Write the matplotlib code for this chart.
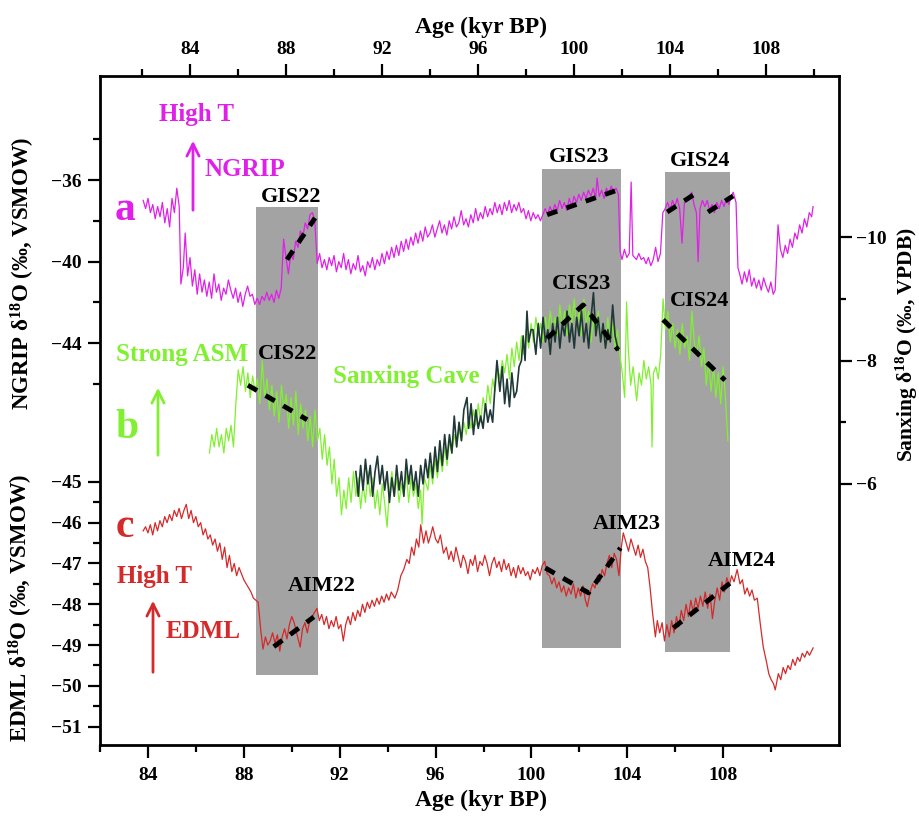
import matplotlib
matplotlib.use("Agg")
import matplotlib.pyplot as plt
from matplotlib.patches import Rectangle

plt.rcParams['font.family'] = ['Liberation Serif', 'DejaVu Serif']
plt.rcParams['font.weight'] = 'bold'
plt.rcParams['mathtext.fontset'] = 'custom'
plt.rcParams['mathtext.rm'] = 'Liberation Serif:bold'
plt.rcParams['mathtext.bf'] = 'Liberation Serif:bold'
plt.rcParams['mathtext.default'] = 'bf'

# NGRIP d18O (top age axis)
ngrip_age = [82.05, 82.15, 82.25, 82.35, 82.45, 82.55, 82.65, 82.75, 82.85, 82.95,
             83.05, 83.15, 83.25, 83.35, 83.45, 83.55, 83.62, 83.72, 83.8, 83.9,
             84.0, 84.1, 84.2, 84.3, 84.4, 84.5, 84.6, 84.7, 84.8, 84.9,
             85.0, 85.1, 85.2, 85.3, 85.4, 85.5, 85.6, 85.7, 85.8, 85.9,
             86.0, 86.1, 86.2, 86.3, 86.4, 86.5, 86.6, 86.7, 86.8, 86.9,
             87.0, 87.1, 87.2, 87.3, 87.4, 87.5, 87.6, 87.7, 87.8, 87.9,
             88.0, 88.1, 88.2, 88.3, 88.4, 88.5, 88.6, 88.7, 88.8, 88.9,
             89.0, 89.1, 89.2, 89.3, 89.4, 89.5, 89.6, 89.7, 89.8, 89.9,
             90.0, 90.1, 90.2, 90.3, 90.4, 90.5, 90.6, 90.7, 90.8, 90.9,
             91.0, 91.1, 91.2, 91.3, 91.4, 91.5, 91.6, 91.7, 91.8, 91.9,
             92.0, 92.1, 92.2, 92.3, 92.4, 92.5, 92.6, 92.7, 92.8, 92.9,
             93.0, 93.1, 93.2, 93.3, 93.4, 93.5, 93.6, 93.7, 93.8, 93.9,
             94.0, 94.1, 94.2, 94.3, 94.4, 94.5, 94.6, 94.7, 94.8, 94.9,
             95.0, 95.1, 95.2, 95.3, 95.4, 95.5, 95.6, 95.7, 95.8, 95.9,
             96.0, 96.1, 96.2, 96.3, 96.4, 96.5, 96.6, 96.7, 96.8, 96.9,
             97.0, 97.1, 97.2, 97.3, 97.4, 97.5, 97.6, 97.7, 97.8, 97.9,
             98.0, 98.1, 98.2, 98.3, 98.4, 98.5, 98.6, 98.7, 98.8, 98.9,
             99.0, 99.1, 99.2, 99.3, 99.4, 99.5, 99.6, 99.7, 99.8, 99.9,
             100.0, 100.1, 100.2, 100.3, 100.4, 100.5, 100.6, 100.7, 100.8, 100.9,
             100.96, 101.05, 101.15, 101.25, 101.35, 101.45, 101.55, 101.65, 101.75, 101.85,
             101.92, 102.0, 102.1, 102.2, 102.3, 102.38, 102.45, 102.6, 102.7, 102.8,
             102.9, 103.0, 103.1, 103.2, 103.3, 103.4, 103.5, 103.6, 103.7, 103.8,
             103.9, 104.0, 104.1, 104.2, 104.3, 104.4, 104.5, 104.6, 104.7, 104.8,
             104.9, 105.0, 105.1, 105.17, 105.25, 105.35, 105.45, 105.55, 105.65, 105.75,
             105.85, 105.95, 106.05, 106.15, 106.25, 106.35, 106.45, 106.55, 106.63, 106.75,
             106.83, 106.9, 107.0, 107.1, 107.2, 107.3, 107.4, 107.5, 107.6, 107.7,
             107.8, 107.9, 108.0, 108.1, 108.2, 108.3, 108.38, 108.5, 108.6, 108.7,
             108.8, 108.9, 109.0, 109.1, 109.2, 109.3, 109.4, 109.5, 109.6, 109.7,
             109.8, 109.9, 109.96]
ngrip_d18o = [-37.0, -37.4, -36.9, -37.6, -37.2, -37.9, -37.3, -37.8, -37.1, -38.1,
              -37.4, -38.3, -36.9, -37.6, -36.4, -37.3, -41.1, -40.3, -38.6, -40.7,
              -39.8, -41.2, -40.4, -41.6, -40.6, -41.5, -40.9, -41.7, -41.0, -41.8,
              -40.6, -41.5, -41.1, -41.9, -41.3, -41.6, -40.9, -41.4, -41.8, -41.3,
              -42.0, -41.5, -42.2, -41.6, -41.2, -41.7, -41.6, -42.1, -41.8, -42.1,
              -41.7, -41.9, -41.5, -41.9, -41.6, -42.0, -41.4, -41.8, -41.3, -38.9,
              -39.8, -40.6, -39.6, -39.9, -39.0, -39.3, -38.5, -38.8, -38.1, -38.4,
              -37.7, -37.6, -38.0, -40.1, -39.6, -40.3, -39.9, -40.4, -39.8, -40.2,
              -39.7, -40.5, -40.0, -40.3, -39.6, -40.4, -39.9, -40.6, -40.1, -40.4,
              -39.7, -40.5, -40.2, -40.7, -40.0, -40.3, -39.8, -40.4, -39.9, -40.2,
              -39.6, -40.1, -39.5, -39.9, -39.3, -39.8, -39.2, -39.7, -39.0, -39.5,
              -38.9, -39.4, -38.8, -39.2, -38.6, -39.1, -38.5, -39.0, -38.3, -38.8,
              -38.6, -38.2, -38.8, -38.4, -38.0, -38.6, -38.2, -38.7, -38.0, -38.4,
              -37.8, -38.3, -38.1, -37.5, -38.2, -37.9, -38.3, -37.7, -38.1, -37.4,
              -38.0, -37.6, -37.9, -37.3, -37.8, -37.4, -37.7, -37.1, -37.6, -37.2,
              -37.7, -37.1, -37.5, -37.0, -37.6, -37.2, -37.5, -37.1, -37.6, -37.4,
              -37.9, -37.5, -38.0, -37.6, -37.9, -37.7, -38.0, -37.7, -37.4, -37.7,
              -37.3, -37.6, -37.2, -37.5, -37.0, -37.4, -37.1, -37.5, -36.9, -37.3,
              -36.8, -37.1, -36.7, -37.0, -36.6, -36.9, -36.5, -36.8, -36.4, -36.9,
              -35.9, -36.8, -36.5, -36.9, -36.4, -36.7, -36.3, -36.6, -36.4, -36.7,
              -39.5, -39.9, -39.4, -39.8, -39.6, -36.1, -39.7, -39.9, -39.6, -39.9,
              -39.8, -40.1, -39.8, -40.2, -39.9, -39.3, -40.0, -39.6, -37.6, -37.4,
              -37.1, -37.5, -37.0, -37.3, -36.9, -37.4, -39.1, -37.1, -37.0, -36.8,
              -36.6, -37.2, -37.6, -40.0, -37.4, -37.0, -37.3, -37.0, -37.5, -37.2,
              -37.6, -37.1, -37.4, -37.0, -37.3, -36.9, -37.2, -36.8, -36.6, -37.1,
              -40.3, -40.6, -41.1, -40.5, -41.0, -40.4, -41.2, -40.8, -41.3, -40.9,
              -41.4, -40.8, -41.2, -41.5, -41.0, -41.6, -41.4, -38.2, -39.4, -39.8,
              -39.2, -39.6, -38.9, -39.3, -38.6, -38.9, -38.2, -38.6, -37.9, -38.3,
              -37.6, -37.8, -37.3]

# Sanxing Cave d18O (bottom age axis), light green record
sanxing_age = [86.6, 86.7, 86.8, 86.9, 87.0, 87.1, 87.2, 87.3, 87.4, 87.5,
               87.6, 87.7, 87.8, 87.9, 88.0, 88.1, 88.2, 88.3, 88.4, 88.5,
               88.6, 88.7, 88.8, 88.9, 89.0, 89.1, 89.2, 89.3, 89.4, 89.5,
               89.6, 89.7, 89.8, 89.9, 90.0, 90.1, 90.2, 90.3, 90.4, 90.5,
               90.6, 90.7, 90.8, 90.9, 91.0, 91.1, 91.2, 91.3, 91.4, 91.5,
               91.6, 91.7, 91.8, 91.9, 92.0, 92.1, 92.2, 92.3, 92.4, 92.5,
               92.6, 92.7, 92.8, 92.9, 93.0, 93.1, 93.2, 93.3, 93.4, 93.5,
               93.6, 93.7, 93.8, 93.9, 94.0, 94.1, 94.2, 94.3, 94.4, 94.5,
               94.6, 94.7, 94.8, 94.9, 95.0, 95.1, 95.2, 95.3, 95.4, 95.46,
               95.55, 95.7, 95.8, 95.9, 96.0, 96.1, 96.2, 96.3, 96.4, 96.5,
               96.6, 96.7, 96.8, 96.9, 97.0, 97.1, 97.2, 97.3, 97.4, 97.5,
               97.6, 97.7, 97.8, 97.9, 98.0, 98.1, 98.2, 98.3, 98.4, 98.5,
               98.6, 98.7, 98.8, 98.9, 99.0, 99.1, 99.2, 99.3, 99.4, 99.5,
               99.6, 99.7, 99.8, 99.9, 100.0, 100.1, 100.2, 100.3, 100.4, 100.5,
               100.6, 100.7, 100.8, 100.9, 101.0, 101.1, 101.2, 101.3, 101.4, 101.5,
               101.6, 101.7, 101.8, 101.9, 102.0, 102.1, 102.2, 102.3, 102.4, 102.5,
               102.6, 102.7, 102.8, 102.9, 103.0, 103.1, 103.2, 103.3, 103.4, 103.5,
               103.6, 103.7, 103.8, 103.9, 103.98, 104.05, 104.15, 104.25, 104.4, 104.5,
               104.6, 104.7, 104.8, 104.9, 105.0, 105.04, 105.1, 105.2, 105.3, 105.4,
               105.5, 105.6, 105.7, 105.8, 105.9, 106.0, 106.1, 106.2, 106.3, 106.4,
               106.5, 106.6, 106.7, 106.8, 106.9, 107.0, 107.1, 107.2, 107.3, 107.4,
               107.5, 107.6, 107.7, 107.8, 107.9, 108.0, 108.1, 108.2]
sanxing_d18o = [-6.5, -6.8, -6.6, -6.9, -6.6, -6.8, -6.5, -6.9, -6.7, -6.95,
                -6.6, -7.3, -7.85, -7.6, -7.9, -7.5, -7.8, -7.4, -7.75, -7.5,
                -7.7, -7.3, -8.0, -7.4, -7.7, -7.2, -7.6, -7.1, -7.5, -7.0,
                -7.6, -7.2, -7.45, -6.9, -7.4, -6.95, -7.5, -6.8, -7.3, -6.9,
                -7.2, -6.7, -7.1, -6.6, -7.2, -6.7, -6.9, -6.4, -6.8, -6.3,
                -6.6, -6.0, -6.4, -5.8, -6.1, -5.5, -5.9, -5.6, -6.1, -5.7,
                -6.2, -5.8, -6.1, -5.6, -6.0, -5.7, -6.2, -5.8, -6.1, -5.6,
                -5.9, -5.5, -6.0, -5.7, -5.3, -5.9, -6.2, -5.8, -6.1, -5.7,
                -6.0, -5.8, -6.2, -5.7, -6.1, -5.8, -6.0, -5.6, -5.9, -5.35,
                -6.1, -5.9, -6.3, -6.0, -6.4, -6.1, -6.5, -6.2, -6.6, -6.3,
                -6.7, -6.5, -6.8, -6.6, -6.9, -6.7, -7.0, -6.8, -7.1, -6.9,
                -7.2, -6.95, -7.3, -7.0, -7.4, -7.2, -7.6, -7.3, -7.7, -7.5,
                -7.9, -7.7, -8.0, -7.8, -8.1, -7.7, -8.2, -7.9, -8.3, -8.0,
                -8.4, -8.1, -8.5, -8.2, -8.6, -8.3, -8.7, -8.4, -8.6, -8.3,
                -8.7, -8.4, -8.8, -8.5, -8.7, -8.4, -8.9, -8.5, -8.8, -8.4,
                -8.9, -8.6, -9.0, -8.5, -8.8, -8.4, -9.0, -8.6, -8.8, -8.3,
                -8.7, -8.4, -8.8, -8.3, -8.6, -8.2, -8.7, -8.3, -8.6, -8.2,
                -8.5, -8.1, -7.8, -7.4, -8.95, -8.2, -7.6, -7.9, -7.35, -7.8,
                -7.6, -8.0, -7.7, -7.9, -7.6, -6.6, -7.8, -7.9, -7.7, -8.1,
                -9.0, -8.5, -8.8, -8.3, -8.6, -8.2, -8.5, -8.1, -8.6, -8.2,
                -8.4, -8.0, -8.8, -8.3, -8.1, -8.4, -7.9, -8.2, -7.6, -8.0,
                -7.5, -7.9, -7.4, -7.8, -7.3, -7.9, -7.4, -6.7]

# Sanxing Cave second record (dark line)
sanxing2_age = [92.7, 92.8, 92.9, 93.0, 93.1, 93.2, 93.3, 93.4, 93.5, 93.6,
                93.7, 93.8, 93.9, 94.0, 94.1, 94.2, 94.3, 94.4, 94.5, 94.6,
                94.7, 94.8, 94.9, 95.0, 95.1, 95.2, 95.3, 95.4, 95.5, 95.6,
                95.7, 95.8, 95.9, 96.0, 96.1, 96.2, 96.3, 96.4, 96.5, 96.6,
                96.7, 96.8, 96.9, 97.0, 97.1, 97.2, 97.33, 97.4, 97.5, 97.6,
                97.7, 97.8, 97.9, 98.0, 98.1, 98.2, 98.3, 98.4, 98.5, 98.58,
                98.7, 98.8, 98.9, 99.0, 99.1, 99.2, 99.3, 99.4, 99.5, 99.6,
                99.67, 99.75, 99.83, 99.9, 100.0, 100.08, 100.2, 100.3, 100.4, 100.5,
                100.6, 100.7, 100.8, 100.9, 101.0, 101.1, 101.2, 101.3, 101.4, 101.5,
                101.6, 101.7, 101.8, 101.9, 102.0, 102.1, 102.2, 102.3, 102.4, 102.5,
                102.6, 102.7, 102.8, 102.9, 103.0, 103.1, 103.2, 103.3, 103.4, 103.5,
                103.63]
sanxing2_d18o = [-6.2, -5.8, -6.3, -5.9, -6.4, -6.0, -6.3, -5.8, -6.2, -6.45,
                 -6.0, -6.3, -5.9, -6.2, -5.7, -6.1, -5.8, -6.3, -5.9, -6.2,
                 -5.8, -6.4, -6.0, -6.3, -5.9, -6.2, -5.8, -6.3, -6.0, -6.4,
                 -6.1, -6.5, -6.1, -6.6, -6.2, -6.7, -6.3, -6.8, -6.4, -6.8,
                 -6.5, -7.1, -6.6, -7.0, -6.7, -7.2, -7.4, -6.9, -7.3, -6.8,
                 -7.2, -6.9, -7.1, -6.9, -7.3, -7.0, -7.2, -7.0, -7.6, -8.0,
                 -7.5, -7.9, -7.3, -7.7, -7.25, -7.8, -7.4, -7.5, -7.9, -8.0,
                 -8.4, -8.0, -8.8, -8.3, -8.5, -8.5, -8.1, -8.6, -8.2, -8.7,
                 -8.3, -8.5, -8.1, -8.6, -8.3, -8.7, -8.2, -8.6, -8.4, -8.8,
                 -8.3, -8.6, -8.2, -8.7, -8.4, -8.8, -8.3, -8.6, -8.2, -8.7,
                 -9.1, -8.4, -8.7, -8.3, -8.6, -8.2, -8.5, -8.3, -8.9, -8.4,
                 -8.17]

# EDML d18O (bottom age axis)
edml_age = [83.8, 83.9, 84.0, 84.1, 84.2, 84.3, 84.4, 84.5, 84.6, 84.7,
            84.8, 84.9, 85.0, 85.1, 85.2, 85.3, 85.4, 85.5, 85.6, 85.7,
            85.8, 85.9, 86.0, 86.1, 86.2, 86.3, 86.4, 86.5, 86.6, 86.7,
            86.8, 86.9, 87.0, 87.1, 87.2, 87.3, 87.4, 87.5, 87.6, 87.7,
            87.8, 87.9, 88.0, 88.1, 88.2, 88.3, 88.4, 88.5, 88.6, 88.7,
            88.8, 88.9, 89.0, 89.1, 89.2, 89.3, 89.4, 89.5, 89.6, 89.7,
            89.8, 89.9, 90.0, 90.1, 90.2, 90.35, 90.45, 90.55, 90.65, 90.75,
            90.85, 90.95, 91.05, 91.15, 91.25, 91.35, 91.45, 91.55, 91.65, 91.75,
            91.85, 91.95, 92.05, 92.15, 92.25, 92.35, 92.45, 92.55, 92.65, 92.75,
            92.85, 92.95, 93.05, 93.15, 93.25, 93.35, 93.45, 93.55, 93.65, 93.75,
            93.85, 93.95, 94.05, 94.15, 94.3, 94.42, 94.55, 94.67, 94.8, 94.9,
            95.0, 95.1, 95.2, 95.3, 95.38, 95.5, 95.6, 95.7, 95.8, 95.88,
            96.0, 96.1, 96.2, 96.33, 96.45, 96.55, 96.65, 96.75, 96.85, 96.95,
            97.05, 97.15, 97.25, 97.35, 97.45, 97.55, 97.65, 97.75, 97.85, 97.95,
            98.05, 98.15, 98.25, 98.35, 98.45, 98.55, 98.65, 98.75, 98.85, 98.95,
            99.05, 99.15, 99.25, 99.35, 99.45, 99.55, 99.65, 99.75, 99.85, 99.95,
            100.05, 100.15, 100.25, 100.35, 100.45, 100.55, 100.65, 100.75, 100.85, 100.95,
            101.05, 101.15, 101.25, 101.35, 101.45, 101.55, 101.65, 101.75, 101.85, 101.95,
            102.05, 102.15, 102.25, 102.33, 102.45, 102.55, 102.65, 102.75, 102.85, 102.95,
            103.05, 103.15, 103.25, 103.35, 103.45, 103.55, 103.65, 103.75, 103.83, 103.95,
            104.05, 104.15, 104.25, 104.35, 104.45, 104.55, 104.65, 104.75, 104.85, 104.95,
            105.05, 105.17, 105.25, 105.35, 105.45, 105.55, 105.65, 105.75, 105.85, 105.95,
            106.05, 106.15, 106.25, 106.35, 106.45, 106.55, 106.65, 106.75, 106.85, 106.95,
            107.05, 107.15, 107.25, 107.35, 107.45, 107.55, 107.65, 107.75, 107.85, 107.95,
            108.05, 108.15, 108.25, 108.35, 108.45, 108.58, 108.7, 108.8, 108.9, 109.0,
            109.1, 109.2, 109.3, 109.42, 109.55, 109.67, 109.8, 109.9, 110.0, 110.1,
            110.17, 110.3, 110.4, 110.5, 110.6, 110.7, 110.8, 110.9, 111.0, 111.1,
            111.2, 111.3, 111.4, 111.5, 111.6, 111.75]
edml_d18o = [-46.2, -46.1, -46.25, -46.05, -46.3, -46.0, -46.2, -45.95, -46.1, -45.85,
             -46.0, -45.8, -45.95, -45.7, -45.85, -45.65, -45.9, -45.7, -45.55, -45.9,
             -45.7, -46.0, -45.85, -46.1, -46.0, -46.3, -46.15, -46.4, -46.3, -46.55,
             -46.4, -46.7, -46.5, -46.9, -46.6, -47.1, -46.8, -47.2, -47.0, -47.3,
             -47.1, -47.25, -47.4, -47.5, -47.6, -47.7, -47.85, -47.9, -47.95, -48.6,
             -49.1, -48.8, -49.0, -48.9, -48.7, -48.95, -48.75, -49.15, -48.8, -48.6,
             -48.85, -48.5, -48.3, -48.45, -48.7, -49.05, -48.6, -48.45, -48.7, -48.4,
             -48.3, -48.2, -48.1, -48.4, -48.25, -48.5, -48.3, -48.6, -48.4, -48.55,
             -48.3, -48.6, -48.5, -48.9, -48.5, -48.3, -48.5, -48.2, -48.4, -48.15,
             -48.3, -48.0, -48.2, -47.95, -48.1, -47.9, -48.05, -47.85, -48.0, -47.8,
             -47.95, -47.75, -47.9, -47.7, -47.85, -47.65, -47.3, -47.15, -46.9, -47.0,
             -46.6, -46.8, -46.4, -46.6, -46.05, -46.5, -46.2, -46.5, -46.3, -46.1,
             -46.4, -46.5, -46.3, -46.75, -46.6, -46.9, -46.7, -46.95, -46.6, -46.85,
             -47.1, -46.8, -46.95, -47.25, -46.9, -47.05, -46.8, -47.2, -46.95, -47.05,
             -46.8, -47.0, -47.3, -47.0, -46.85, -47.1, -46.95, -47.2, -46.9, -47.15,
             -47.0, -47.3, -47.1, -47.35, -47.05, -47.25, -47.1, -47.3, -47.2, -47.4,
             -47.15, -47.25, -47.1, -47.3, -47.05, -46.95, -47.25, -47.3, -47.5, -47.35,
             -47.6, -47.45, -47.7, -47.55, -47.8, -47.6, -47.75, -47.5, -47.85, -47.6,
             -47.8, -47.55, -47.9, -48.06, -47.7, -47.5, -47.6, -47.3, -47.45, -47.15,
             -47.3, -47.0, -46.8, -47.1, -46.75, -46.9, -47.3, -46.6, -46.25, -46.5,
             -46.7, -46.4, -46.6, -46.8, -46.55, -46.85, -46.65, -46.95, -47.1, -47.6,
             -48.2, -48.8, -48.4, -48.7, -48.45, -48.9, -48.5, -48.8, -48.4, -48.7,
             -48.3, -48.55, -48.15, -48.4, -48.0, -48.3, -47.9, -48.2, -47.85, -48.1,
             -47.8, -48.05, -47.7, -48.1, -47.75, -48.35, -47.9, -47.6, -47.9, -47.45,
             -47.7, -47.35, -47.55, -47.3, -47.45, -47.15, -47.5, -47.4, -47.75, -47.6,
             -47.8, -47.65, -47.9, -47.85, -48.5, -49.05, -49.4, -49.7, -49.85, -49.95,
             -50.1, -49.7, -49.85, -49.55, -49.7, -49.5, -49.6, -49.35, -49.5, -49.3,
             -49.4, -49.2, -49.3, -49.15, -49.25, -49.07]

# trend lines (dashed) in each interstadial
ngrip_trend_age = [[88.04, 89.21], [98.88, 101.79], [103.88, 104.96], [105.58, 106.63]]
ngrip_trend_val = [[-39.9, -37.86], [-37.7, -36.5], [-37.57, -36.74], [-37.57, -36.78]]
sanxing_trend_age = [[88.2, 90.67], [100.67, 102.17, 103.63], [105.5, 108.08]]
sanxing_trend_val = [[-7.6, -7.04], [-8.36, -8.9, -8.17], [-8.66, -7.68]]
edml_trend_age = [[89.25, 90.92], [100.58, 102.38, 103.71], [105.92, 108.29]]
edml_trend_val = [[-49.04, -48.31], [-47.11, -47.72, -46.62], [-48.58, -47.48]]

# shaded intervals (bottom age axis, EDML units)
box_start = [88.5, 100.46, 105.58]
box_end = [91.08, 103.75, 108.29]
box_top = [-38.26, -37.33, -37.40]
box_bottom = [-49.73, -49.07, -49.17]

MAG = '#E020E8'
GRN = '#80F030'
RED = '#D42A2A'
DARK = '#203838'

fig = plt.figure(figsize=(9.2, 8.17), dpi=100)
rect = [100 / 920, 72 / 817, 739 / 920, 669 / 817]

ax = fig.add_axes(rect)
ax_ng = fig.add_axes(rect, facecolor='none')
ax_sx = fig.add_axes(rect, facecolor='none')

ax.set_xlim(82.04, 112.83)
ax.set_ylim(-51.45, -35.05)
ax_ng.set_xlim(80.25, 111.04)
ax_ng.set_ylim(-63.7, -30.9)
ax_sx.set_xlim(82.04, 112.83)
ax_sx.set_ylim(-1.77, -12.61)

for s0, s1, t, b in zip(box_start, box_end, box_top, box_bottom):
    ax.add_patch(Rectangle((s0, b), s1 - s0, t - b, facecolor='#a3a3a3',
                           edgecolor='none', zorder=0))

ax.plot(edml_age, edml_d18o, color=RED, lw=0.9)
for xa, ya in zip(edml_trend_age, edml_trend_val):
    ax.plot(xa, ya, color='black', lw=3.5, dashes=(2.2, 2.0))

ax_ng.plot(ngrip_age, ngrip_d18o, color=MAG, lw=0.9)
for xa, ya in zip(ngrip_trend_age, ngrip_trend_val):
    ax_ng.plot(xa, ya, color='black', lw=3.5, dashes=(2.2, 2.0))

ax_sx.plot(sanxing_age, sanxing_d18o, color=GRN, lw=0.9)
ax_sx.plot(sanxing2_age, sanxing2_d18o, color=DARK, lw=1.2)
for xa, ya in zip(sanxing_trend_age, sanxing_trend_val):
    ax_sx.plot(xa, ya, color='black', lw=3.5, dashes=(2.2, 2.0))

# axes / ticks
for s in ax.spines.values():
    s.set_linewidth(2)
for a in (ax_ng, ax_sx):
    for s in a.spines.values():
        s.set_visible(False)

ax.set_xticks([84, 88, 92, 96, 100, 104, 108])
ax.set_xticks([82, 86, 90, 94, 98, 102, 106, 110], minor=True)
ax.set_yticks([-45, -46, -47, -48, -49, -50, -51])
ax.set_yticks([-45.5, -46.5, -47.5, -48.5, -49.5, -50.5], minor=True)
ax.tick_params(which='major', length=9, width=1.6, labelsize=14)
ax.tick_params(which='minor', length=5, width=1.6)
ax.tick_params(axis='x', which='both', top=False, bottom=True, pad=7)
ax.tick_params(axis='y', which='both', left=True, right=False, pad=4)

ax_ng.xaxis.tick_top()
ax_ng.set_xticks([84, 88, 92, 96, 100, 104, 108])
ax_ng.set_xticks([82, 86, 90, 94, 98, 102, 106, 110], minor=True)
ax_ng.set_yticks([-36, -40, -44])
ax_ng.set_yticks([-34, -38, -42, -46], minor=True)
ax_ng.tick_params(which='major', length=9, width=1.6, labelsize=14)
ax_ng.tick_params(which='minor', length=5, width=1.6)
ax_ng.tick_params(axis='x', which='both', top=True, bottom=False, pad=4)
ax_ng.tick_params(axis='y', which='both', left=True, right=False, pad=4)

ax_sx.set_xticks([])
ax_sx.yaxis.tick_right()
ax_sx.set_yticks([-10, -8, -6])
ax_sx.set_yticks([-9, -7], minor=True)
ax_sx.tick_params(which='major', length=9, width=1.6, labelsize=14, pad=3)
ax_sx.tick_params(which='minor', length=5, width=1.6)

ax.set_xlabel('Age (kyr BP)', fontsize=17, fontweight='bold')
ax.xaxis.set_label_coords(0.516, -0.067)
ax_ng.xaxis.set_label_position('top')
ax_ng.set_xlabel('Age (kyr BP)', fontsize=17, fontweight='bold')
ax_ng.xaxis.set_label_coords(0.516, 1.064)

ax_ng.set_ylabel('NGRIP δ$^{18}$O (‰, VSMOW)', fontsize=16.5, fontweight='bold')
ax_ng.yaxis.set_label_coords(-0.085, 0.705)
ax.set_ylabel('EDML δ$^{18}$O (‰, VSMOW)', fontsize=16.5, fontweight='bold')
ax.yaxis.set_label_coords(-0.088, 0.205)
ax_sx.yaxis.set_label_position('right')
ax_sx.set_ylabel('Sanxing δ$^{18}$O (‰, VPDB)', fontsize=15.5, fontweight='bold')
ax_sx.yaxis.set_label_coords(1.074, 0.598)


def pos(px, py):
    return ((px - 100) / 739, (745 - py) / 669)


def label(px, py, txt, color, size):
    ax_sx.text(*pos(px, py), txt, transform=ax_sx.transAxes, color=color,
               fontsize=size, fontweight='bold', ha='center', va='center')


def arrow(px, py0, py1, color):
    ax_sx.annotate('', xy=pos(px, py1), xytext=pos(px, py0),
                   xycoords='axes fraction', textcoords='axes fraction',
                   arrowprops=dict(arrowstyle='->', color=color, lw=2,
                                   mutation_scale=22))


label(197, 115, 'High T', MAG, 18)
arrow(193, 213, 138, MAG)
label(245, 170, 'NGRIP', MAG, 18)
label(125, 210, 'a', MAG, 30)
label(291, 197, 'GIS22', 'black', 16)
label(579, 157, 'GIS23', 'black', 16)
label(700, 161, 'GIS24', 'black', 16)

label(182, 355, 'Strong ASM', GRN, 18)
label(288, 354, 'CIS22', 'black', 16)
arrow(158, 458, 385, GRN)
label(127, 428, 'b', GRN, 30)
label(406, 376, 'Sanxing Cave', GRN, 18)
label(582, 284, 'CIS23', 'black', 16)
label(700, 301, 'CIS24', 'black', 16)

label(125, 527, 'c', RED, 30)
label(155, 577, 'High T', RED, 18)
arrow(153, 675, 598, RED)
label(203, 632, 'EDML', RED, 18)
label(322, 586, 'AIM22', 'black', 16)
label(627, 524, 'AIM23', 'black', 16)
label(742, 561, 'AIM24', 'black', 16)

fig.savefig('out.png', dpi=100)
